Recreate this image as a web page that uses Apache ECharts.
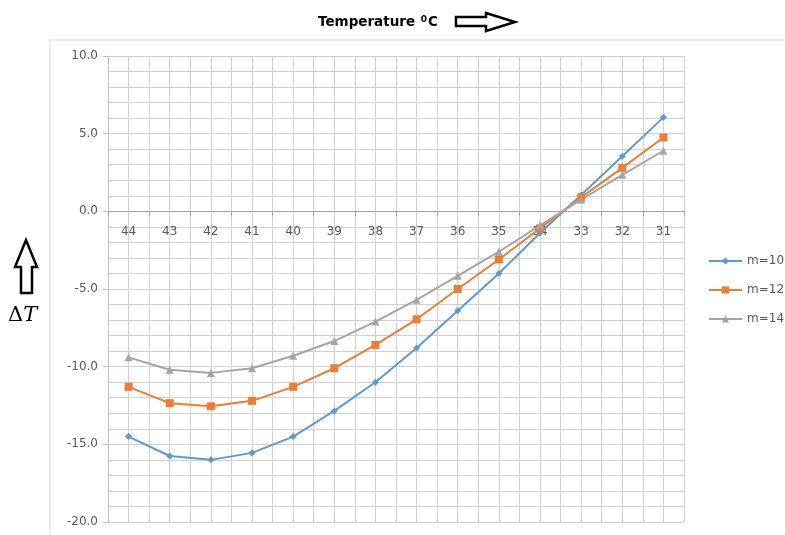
<!DOCTYPE html>
<html>
<head>
<meta charset="utf-8">
<script src="https://cdn.jsdelivr.net/npm/echarts@6/dist/echarts.min.js"></script>
<style>
  html, body { margin: 0; padding: 0; background: #fff; }
  #chart { width: 785px; height: 535px; }
</style>
</head>
<body>
<div id="chart"></div>
<script>
// temperatures on the category axis (descending, as in the sheet)
const temps = ['44', '43', '42', '41', '40', '39', '38', '37', '36', '35', '34', '33', '32', '31'];
const m10 = [-14.5, -15.75, -16.0, -15.55, -14.5, -12.85, -11.0, -8.8, -6.4, -4.0, -1.4, 1.05, 3.55, 6.05];
const m12 = [-11.3, -12.35, -12.55, -12.2, -11.3, -10.1, -8.6, -6.95, -5.0, -3.1, -1.1, 0.9, 2.8, 4.75];
const m14 = [-9.4, -10.2, -10.4, -10.1, -9.3, -8.35, -7.1, -5.7, -4.15, -2.6, -0.9, 0.75, 2.35, 3.9];
const seriesNames = ['m=10', 'm=12', 'm=14'];
const yMin = -20, yMax = 10;

// half-step categories, only used to draw the vertical grid every half category
const halfSteps = [];
temps.forEach(t => { halfSteps.push(t + 'a', t + 'b'); });

const chart = echarts.init(document.getElementById('chart'));
const gridColor = '#d0d0d0';
const textColor = '#595959';
const gridTop = 56, gridBottom = 13;
// move the category axis up to the zero line
const plotH = 535 - gridTop - gridBottom;
const zeroOffset = -plotH * (0 - yMin) / (yMax - yMin);

const mkSeries = (name, data, symbol, size, color) => ({
    name: name,
    type: 'line',
    xAxisIndex: 0,
    data: data,
    symbol: symbol,
    symbolSize: size,
    showSymbol: true,
    lineStyle: { width: 2, color: color },
    itemStyle: { color: color },
    emphasis: { disabled: true }
});

chart.setOption({
    animation: false,
    textStyle: { fontFamily: 'DejaVu Sans' },
    grid: { left: 108, right: 101, top: gridTop, bottom: gridBottom, outerBoundsMode: 'none' },
    legend: {
        orient: 'vertical',
        left: 708,
        top: 255,
        padding: 0,
        itemWidth: 33,
        itemHeight: 9,
        itemGap: 17,
        textStyle: { fontSize: 12, color: textColor },
        data: seriesNames
    },
    xAxis: [
        {
            type: 'category',
            data: temps,
            boundaryGap: true,
            position: 'bottom',
            offset: zeroOffset,
            axisLine: { onZero: false, lineStyle: { color: '#a6a6a6' } },
            axisTick: { show: true, length: 5, lineStyle: { color: '#a6a6a6' } },
            axisLabel: { fontSize: 12, color: textColor, margin: 15 },
            splitLine: { show: false }
        },
        {
            type: 'category',
            data: halfSteps,
            boundaryGap: true,
            position: 'top',
            axisLine: { show: false, onZero: false },
            axisTick: { show: false },
            axisLabel: { show: false },
            splitLine: { show: true, interval: 0, lineStyle: { color: gridColor, width: 1 } }
        }
    ],
    yAxis: {
        type: 'value',
        min: yMin,
        max: yMax,
        interval: 5,
        axisLine: { show: true, onZero: false, lineStyle: { color: '#bfbfbf' } },
        axisTick: { show: true, length: 5, lineStyle: { color: '#bfbfbf' } },
        axisLabel: {
            fontSize: 12,
            color: textColor,
            margin: 10,
            formatter: v => v.toFixed(1)
        },
        splitLine: { show: true, lineStyle: { color: gridColor, width: 1 } },
        minorTick: { show: false, splitNumber: 5 },
        minorSplitLine: { show: true, lineStyle: { color: gridColor, width: 1 } }
    },
    series: [
        mkSeries(seriesNames[0], m10, 'diamond', 7, '#5B9BD5'),
        mkSeries(seriesNames[1], m12, 'rect', 8, '#ED7D31'),
        mkSeries(seriesNames[2], m14, 'triangle', 8, '#A5A5A5')
    ],
    graphic: [
        // outer chart-area border
        {
            type: 'rect',
            shape: { x: 50, y: 40, width: 760, height: 520 },
            style: { fill: 'none', stroke: '#d9d9d9', lineWidth: 1 },
            silent: true
        },
        // title
        {
            type: 'text',
            left: 318,
            top: 15,
            style: {
                text: '{a|Temperature }{s|0}{a|C}',
                rich: {
                    a: { fontFamily: 'DejaVu Sans', fontWeight: 'bold', fontSize: 13.5, fill: '#000' },
                    s: { fontFamily: 'DejaVu Sans', fontWeight: 'bold', fontSize: 9, fill: '#000', verticalAlign: 'top', padding: [0, 1, 6, 1] }
                }
            }
        },
        // right arrow next to the title
        {
            type: 'polygon',
            shape: { points: [[456, 17], [486, 17], [486, 13], [515, 22], [486, 31], [486, 26], [456, 26]] },
            style: { fill: '#fff', stroke: '#000', lineWidth: 2.5 }
        },
        // up arrow for the y label
        {
            type: 'polygon',
            shape: { points: [[21, 293], [21, 267], [15, 267], [26, 240], [37, 267], [32, 267], [32, 293]] },
            style: { fill: '#fff', stroke: '#000', lineWidth: 2.5 }
        },
        // ΔT label
        {
            type: 'text',
            left: 8,
            top: 305,
            style: {
                text: '{d|Δ}{t|T}',
                rich: {
                    d: { fontFamily: 'DejaVu Serif', fontSize: 21, fill: '#000' },
                    t: { fontFamily: 'DejaVu Serif', fontStyle: 'italic', fontSize: 21, fill: '#000' }
                }
            }
        }
    ]
});
</script>
</body>
</html>
